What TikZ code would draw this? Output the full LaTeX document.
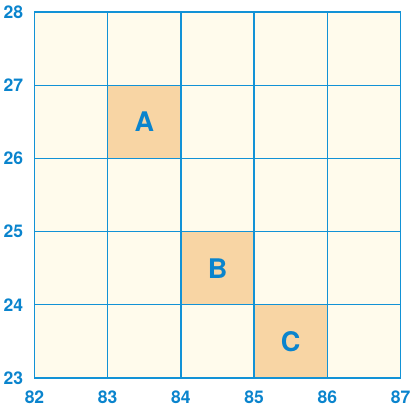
\documentclass[tikz,border=0pt]{standalone}
\usepackage{fontspec}
\setmainfont{TeX Gyre Heros}
\definecolor{gridblue}{RGB}{18,146,214}
\definecolor{txtblue}{RGB}{10,132,205}
\definecolor{cream}{RGB}{255,251,236}
\definecolor{peach}{RGB}{248,213,164}
\begin{document}
\begin{tikzpicture}[x=73.2pt,y=73.2pt,
  gridline/.style={draw=gridblue,line width=1.3pt},
  cellbox/.style={fill=peach,draw=gridblue,line width=1.3pt,minimum size=73.2pt,inner sep=0pt,font=\bfseries\fontsize{27}{27}\selectfont,text=txtblue},
  ylab/.style={anchor=west,font=\bfseries\fontsize{17.5}{17.5}\selectfont,text=txtblue,inner sep=0pt},
  xlab/.style={font=\bfseries\fontsize{17.5}{17.5}\selectfont,text=txtblue,inner sep=0pt}]
\useasboundingbox (-34.5pt,-31pt) rectangle (377.5pt,378pt);
\fill[cream] (0,0) rectangle (5,5);
\node[cellbox] (A) at (1.5,3.5) {A};
\node[cellbox] (B) at (2.5,1.5) {B};
\node[cellbox] (C) at (3.5,0.5) {C};
\foreach \i in {1,...,4} {
  \draw[gridline] (\i,0) -- (\i,5);
  \draw[gridline] (0,\i) -- (5,\i);
}
\draw[gridline,line width=1.8pt] (0,0) rectangle (5,5);
\foreach \v [count=\k from 0] in {23,...,28} {
  \node[ylab] (y\v) at (-31pt,\k) {\v};
}
\foreach \v [count=\k from 0] in {82,...,87} {
  \node[xlab] (x\v) at (\k,-19pt) {\v};
}
\end{tikzpicture}
\end{document}
